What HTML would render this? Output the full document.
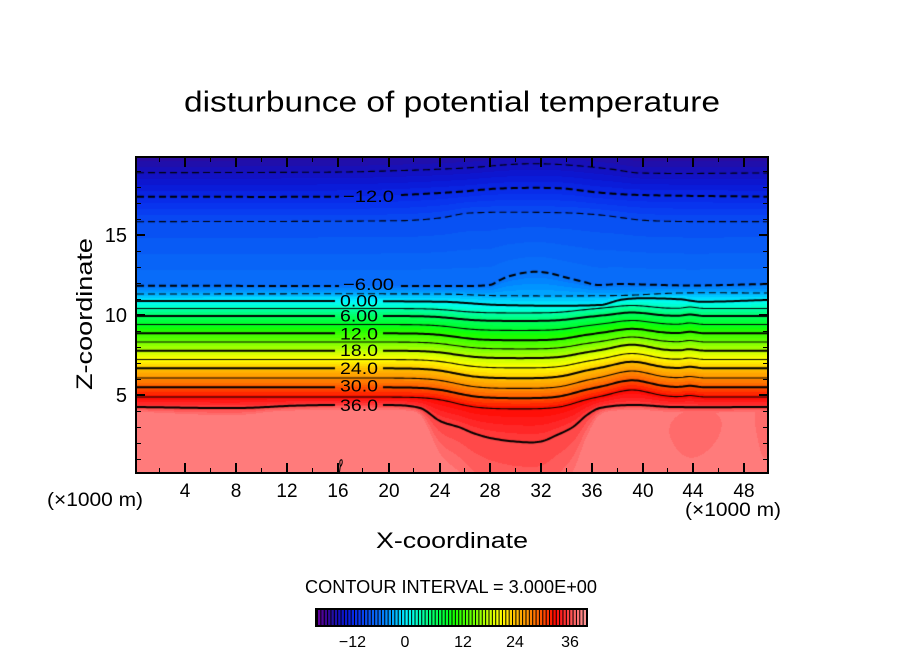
<!DOCTYPE html>
<html><head><meta charset="utf-8">
<style>
html,body{margin:0;padding:0;background:#fff;}
#wrap{position:relative;width:904px;height:654px;overflow:hidden;background:#fff;}
#fld{position:absolute;left:137px;top:158px;}
#ov{position:absolute;left:0;top:0;}
text{font-family:"Liberation Sans",sans-serif;fill:#000;}
</style></head><body>
<div id="wrap">
<canvas id="fld" width="630" height="314"></canvas>
<svg id="ov" width="904" height="654" viewBox="0 0 904 654" xmlns="http://www.w3.org/2000/svg">
  <!-- tiny loop -->
  <path d="M339.5,472 L340.3,466 Q338.8,459.5 341.8,459.8 Q343.2,462.5 340.6,466.5" fill="none" stroke="#000" stroke-width="1"/>
  <!-- frame -->
  <rect x="136" y="157" width="632" height="316" fill="none" stroke="#000" stroke-width="2"/>
  <!-- major ticks -->
  <path stroke="#000" stroke-width="2" fill="none" d="
  M185,472v-9 M236,472v-9 M287,472v-9 M338,472v-9 M389,472v-9 M440,472v-9 M490,472v-9 M541,472v-9 M592,472v-9 M643,472v-9 M693,472v-9 M744,472v-9
  M185,158v9 M236,158v9 M287,158v9 M338,158v9 M389,158v9 M440,158v9 M490,158v9 M541,158v9 M592,158v9 M643,158v9 M693,158v9 M744,158v9
  M137,395h8 M137,315h8 M137,235h8
  M767,395h-8 M767,315h-8 M767,235h-8"/>
  <!-- minor ticks -->
  <path stroke="#000" stroke-width="1" fill="none" d="
  M159.5,472v-4 M210.5,472v-4 M261.5,472v-4 M312.5,472v-4 M362.5,472v-4 M413.5,472v-4 M464.5,472v-4 M515.5,472v-4 M566.5,472v-4 M617.5,472v-4 M667.5,472v-4 M718.5,472v-4
  M159.5,158v4 M210.5,158v4 M261.5,158v4 M312.5,158v4 M362.5,158v4 M413.5,158v4 M464.5,158v4 M515.5,158v4 M566.5,158v4 M617.5,158v4 M667.5,158v4 M718.5,158v4
  M137,459.5h4 M137,443.5h4 M137,427.5h4 M137,411.5h4 M137,379.5h4 M137,363.5h4 M137,347.5h4 M137,331.5h4 M137,299.5h4 M137,283.5h4 M137,267.5h4 M137,251.5h4 M137,219.5h4 M137,203.5h4 M137,187.5h4 M137,171.5h4
  M767,459.5h-4 M767,443.5h-4 M767,427.5h-4 M767,411.5h-4 M767,379.5h-4 M767,363.5h-4 M767,347.5h-4 M767,331.5h-4 M767,299.5h-4 M767,283.5h-4 M767,267.5h-4 M767,251.5h-4 M767,219.5h-4 M767,203.5h-4 M767,187.5h-4 M767,171.5h-4"/>

  <!-- contour labels -->
  <g font-size="17">
    <text x="343" y="202" textLength="51" lengthAdjust="spacingAndGlyphs">−12.0</text>
    <text x="343" y="290" textLength="51" lengthAdjust="spacingAndGlyphs">−6.00</text>
    <text x="340" y="306.5" textLength="38" lengthAdjust="spacingAndGlyphs">0.00</text>
    <text x="340" y="321.5" textLength="38" lengthAdjust="spacingAndGlyphs">6.00</text>
    <text x="340" y="339.5" textLength="38" lengthAdjust="spacingAndGlyphs">12.0</text>
    <text x="340" y="356" textLength="38" lengthAdjust="spacingAndGlyphs">18.0</text>
    <text x="340" y="374" textLength="38" lengthAdjust="spacingAndGlyphs">24.0</text>
    <text x="340" y="391.5" textLength="38" lengthAdjust="spacingAndGlyphs">30.0</text>
    <text x="340" y="411" textLength="38" lengthAdjust="spacingAndGlyphs">36.0</text>
  </g>

  <!-- title -->
  <text x="452" y="111.5" font-size="29" text-anchor="middle" textLength="536" lengthAdjust="spacingAndGlyphs">disturbunce of potential temperature</text>

  <!-- y tick labels -->
  <g font-size="20" text-anchor="end">
    <text x="127" y="242">15</text>
    <text x="127" y="322">10</text>
    <text x="127" y="402">5</text>
  </g>
  <!-- x tick labels -->
  <g font-size="19" text-anchor="middle">
    <text x="185" y="497">4</text>
    <text x="236" y="497">8</text>
    <text x="287" y="497">12</text>
    <text x="338" y="497">16</text>
    <text x="389" y="497">20</text>
    <text x="440" y="497">24</text>
    <text x="490" y="497">28</text>
    <text x="541" y="497">32</text>
    <text x="592" y="497">36</text>
    <text x="643" y="497">40</text>
    <text x="693" y="497">44</text>
    <text x="744" y="497">48</text>
  </g>
  <text x="47" y="506" font-size="19" textLength="96" lengthAdjust="spacingAndGlyphs">(×1000 m)</text>
  <text x="685" y="516" font-size="19" textLength="96" lengthAdjust="spacingAndGlyphs">(×1000 m)</text>

  <text x="452" y="548" font-size="22" text-anchor="middle" textLength="152" lengthAdjust="spacingAndGlyphs">X-coordinate</text>
  <text transform="translate(92,314) rotate(-90)" x="0" y="0" font-size="22" text-anchor="middle" textLength="152" lengthAdjust="spacingAndGlyphs">Z-coordinate</text>

  <text x="305" y="593" font-size="18" textLength="292" lengthAdjust="spacingAndGlyphs">CONTOUR INTERVAL = 3.000E+00</text>

  <!-- colorbar -->
  <rect x="315" y="608" width="273" height="19" fill="#000"/>
  <g id="cb"></g>
  <g font-size="16" text-anchor="middle">
    <text x="352.5" y="647">−12</text>
    <text x="405" y="647">0</text>
    <text x="463" y="647">12</text>
    <text x="515" y="647">24</text>
    <text x="570" y="647">36</text>
  </g>
</svg>
</div>
<script>
(function(){
var cv=document.getElementById('fld');
var ctx=cv.getContext('2d');
var X0=137,Y0=158,W=630,H=314;
function cr(p,x){
  var n=p.length;
  if(x<=p[0][0]) return p[0][1];
  if(x>=p[n-1][0]) return p[n-1][1];
  var i=0; while(i<n-2 && x>p[i+1][0]) i++;
  var p0=p[Math.max(i-1,0)],p1=p[i],p2=p[i+1],p3=p[Math.min(i+2,n-1)];
  var h=p2[0]-p1[0], t=(x-p1[0])/h;
  var m1=(p2[1]-p0[1])/(p2[0]-p0[0])*h;
  var m2=(p3[1]-p1[1])/(p3[0]-p1[0])*h;
  var t2=t*t,t3=t2*t;
  return (2*t3-3*t2+1)*p1[1]+(t3-2*t2+t)*m1+(-2*t3+3*t2)*p2[1]+(t3-t2)*m2;
}
var P={
 '-15':[[136,172.7],[300,172.3],[360,171.7],[460,168.3],[520,164],[560,164.5],[610,169],[640,173],[767,173]],
 '-12':[[136,196.7],[330,196.7],[400,195],[460,191.7],[500,188.5],[560,188.3],[600,192.7],[640,195],[767,196.7]],
 '-9':[[136,221.7],[400,220.7],[440,218],[470,213],[560,212.7],[600,215],[650,220.7],[767,221.7]],
 '-6':[[136,285.7],[330,286],[440,286],[490,285],[500,280],[510,276],[530,272],[547,272.7],[563,276.7],[583,281.7],[597,285],[620,284],[690,285.5],[767,284]],
 '-3':[[136,294],[440,294],[500,295.7],[620,295.5],[680,293],[767,293]],
 '0':[[136,301],[440,301.7],[500,305],[600,305],[620,300],[640,298.3],[680,299.3],[700,301.7],[767,300]],
 '36':[[136,407],[240,408],[300,405.5],[380,405],[420,408],[440,421],[460,427.5],[473,433],[490,438],[517,441.7],[540,441.7],[557,435],[573,427],[587,415],[600,408],[633,405],[673,407],[767,407]]
};
var MID={'3':[308.5,4.5,3],'6':[316,5,3.5],'9':[324.5,6,4],'12':[333.3,7,4.5],'15':[342,7,5],'18':[350.7,7.5,6],'21':[359.5,8.5,6],'24':[368.3,10,6.5],'27':[378,10.5,7],'30':[387.3,11,7],'33':[397,12,7]};
function T(x){return 0.5*(Math.tanh((x-455)/25)-Math.tanh((x-575)/20));}
function B(x){var u=(x-632)/25;return Math.exp(-u*u);}
function B2(x){var u=(x-690)/8;return Math.exp(-u*u);}
function ylev(L,x){
  var k=String(L);
  if(P[k]) return cr(P[k],x);
  var m=MID[k]; return m[0]+m[1]*T(x)-m[2]*B(x)-1.5*B2(x);
}
function g(x,y,cx,cy,sx,sy){var a=(x-cx)/sx,b=(y-cy)/sy;return Math.exp(-(a*a+b*b));}
var LI=[[150,462,26,20],[140,440,10,22],[270,452,28,24],[325,432,14,18],[740,455,28,24],[640,458,22,18]];
var RD=[[700,435,22,18],[763,440,8,30]];
function patch(x,y){
  var s=0,r=0,i;
  for(i=0;i<LI.length;i++){var q=LI[i];s+=g(x,y,q[0],q[1],q[2],q[3]);}
  for(i=0;i<RD.length;i++){var q2=RD[i];r+=g(x,y,q2[0],q2[1],q2[2],q2[3]);}
  return 0.55*Math.min(1,s)-0.45*Math.min(1,r);
}
var CM=[[-20.25,112,0,160],[-18,60,4,150],[-16.5,36,14,164],[-15,20,16,190],[-13.5,10,24,212],[-12,8,40,230],[-10.5,8,56,240],[-9,8,76,242],[-7.5,8,96,246],[-6,8,112,250],[-4.5,0,140,255],[-3,0,170,255],[-1.5,0,210,255],[0,0,245,255],[1.5,0,255,225],[3,0,255,180],[4.5,0,255,140],[6,0,255,100],[7.5,0,255,70],[9,0,255,40],[10.5,20,255,0],[12,50,255,0],[13.5,80,255,0],[15,110,255,0],[16.5,150,255,0],[18,190,255,0],[19.5,225,255,0],[21,255,255,0],[22.5,255,225,0],[24,255,195,0],[25.5,255,170,0],[27,255,145,0],[28.5,255,115,0],[30,255,85,0],[31.5,255,50,0],[33,255,10,0],[34.5,255,30,30],[36,255,64,64],[37.5,255,100,100],[38.6,255,122,122],[39.4,255,140,140],[40.5,255,160,160]];
function cmap(v){
  if(v<=CM[0][0]) return [CM[0][1],CM[0][2],CM[0][3]];
  for(var i=1;i<CM.length;i++){
    if(v<=CM[i][0]){var a=CM[i-1],b=CM[i],t=(v-a[0])/(b[0]-a[0]);
      return [Math.round(a[1]+t*(b[1]-a[1])),Math.round(a[2]+t*(b[2]-a[2])),Math.round(a[3]+t*(b[3]-a[3]))];}
  }
  var l=CM[CM.length-1]; return [l[1],l[2],l[3]];
}
var BC=[]; for(var k=0;k<=81;k++){BC.push(cmap(-20.25+0.75*(k+0.5)));}
var LV=[-15,-12,-9,-6,-3,0,3,6,9,12,15,18,21,24,27,30,33,36];
var img=ctx.createImageData(W,H), d=img.data;
for(var c=0;c<W;c++){
  var x=X0+c+0.5;
  var ys=LV.map(function(L){return ylev(L,x);});
  var y36=ys[17]; var dip=(y36-407)/34.7; dip=Math.max(0,Math.min(1,dip)); var dd=5+70*dip;
  for(var r=0;r<H;r++){
    var y=Y0+r+0.5, v;
    if(y<ys[0]) v=-15-(ys[0]-y)*0.125;
    else if(y>=y36){var f=Math.min(1,(y-y36)/dd); v=36+f*(2.3+patch(x,y));}
    else{var i=0; while(i<16 && y>=ys[i+1]) i++;
      var t=(y-ys[i])/Math.max(0.01,ys[i+1]-ys[i]); v=LV[i]+3*Math.min(1,Math.max(0,t));}
    var kk=Math.floor((v+20.25)/0.75); kk=Math.max(0,Math.min(81,kk));
    var col=BC[kk], o=(r*W+c)*4;
    d[o]=col[0];d[o+1]=col[1];d[o+2]=col[2];d[o+3]=255;
  }
}
ctx.putImageData(img,0,0);
var LAB={'-12':[340,400],'-6':[340,400],'0':[335,383],'6':[335,383],'12':[335,383],'18':[335,383],'24':[335,383],'30':[335,383],'36':[335,383]};
ctx.strokeStyle='#000';
LV.forEach(function(L){
  var thick=(L%6===0);
  ctx.beginPath();
  ctx.lineWidth=thick?2:1.1;
  ctx.setLineDash(L<0?[7,4]:[]);
  var gap=LAB[String(L)], pen=false;
  for(var x=X0;x<=X0+W;x+=2){
    if(gap && x>gap[0] && x<gap[1]){pen=false;continue;}
    var y=ylev(L,x);
    if(!pen){ctx.moveTo(x-X0,y-Y0);pen=true;} else ctx.lineTo(x-X0,y-Y0);
  }
  ctx.stroke();
});
// colorbar
var cb=document.getElementById('cb'), NS='http://www.w3.org/2000/svg';
var n=80, x0=317, w=269/n;
for(var j=0;j<n;j++){
  var cc=cmap(-19.875+0.75*j+0.375);
  var re=document.createElementNS(NS,'rect');
  re.setAttribute('x',(x0+j*w+1).toFixed(2));
  re.setAttribute('y','610');
  re.setAttribute('width',(w-1).toFixed(2));
  re.setAttribute('height','15');
  re.setAttribute('fill','rgb('+cc[0]+','+cc[1]+','+cc[2]+')');
  cb.appendChild(re);
}
})();
</script>
</body></html>
